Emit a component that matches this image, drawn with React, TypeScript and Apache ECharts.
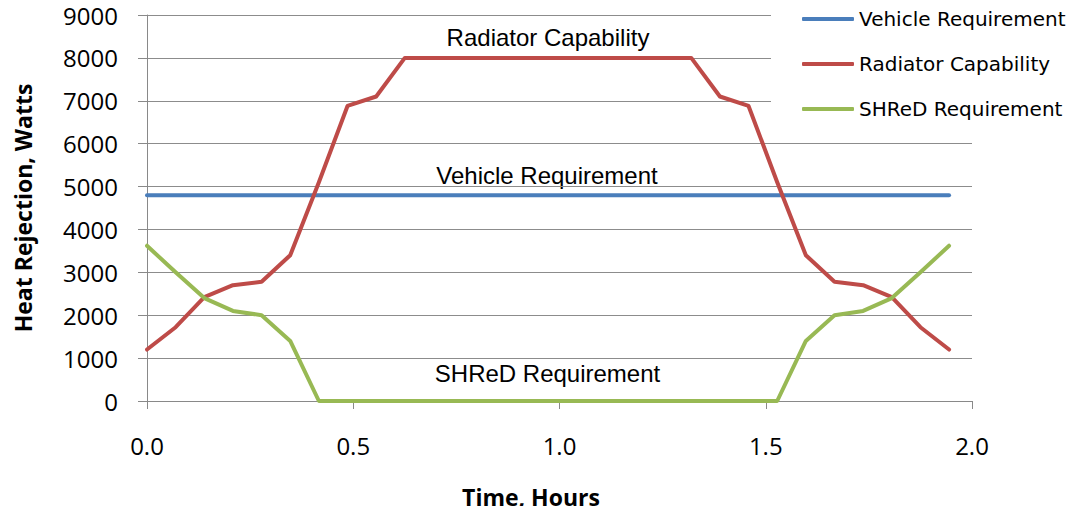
import React, { useEffect, useRef } from "react";
import * as echarts from "echarts";

const timeHours = [
  0, 0.0694, 0.1389, 0.2083, 0.2778, 0.3472, 0.4167, 0.4861, 0.5556, 0.625,
  0.6944, 0.7639, 0.8333, 0.9028, 0.9722, 1.0417, 1.1111, 1.1806, 1.25, 1.3194,
  1.3889, 1.4583, 1.5278, 1.5972, 1.6667, 1.7361, 1.8056, 1.875, 1.9444,
];
const vehicleRequirement = [
  4800, 4800, 4800, 4800, 4800, 4800, 4800, 4800, 4800, 4800,
  4800, 4800, 4800, 4800, 4800, 4800, 4800, 4800, 4800, 4800,
  4800, 4800, 4800, 4800, 4800, 4800, 4800, 4800, 4800,
];
const radiatorCapability = [
  1200, 1720, 2420, 2700, 2780, 3400, 5100, 6880, 7100, 8000,
  8000, 8000, 8000, 8000, 8000, 8000, 8000, 8000, 8000, 8000,
  7100, 6880, 5100, 3400, 2780, 2700, 2420, 1720, 1200,
];
const shredRequirement = [
  3620, 3000, 2400, 2100, 2000, 1400, 0, 0, 0, 0,
  0, 0, 0, 0, 0, 0, 0, 0, 0, 0,
  0, 0, 0, 1400, 2000, 2100, 2400, 3000, 3620,
];
const seriesNames = ["Vehicle Requirement", "Radiator Capability", "SHReD Requirement"];
const seriesColors = ["#4A7EBB", "#BE4B48", "#98B954"];

const tickFont = "Open Sans";

export default function App() {
  const ref = useRef<HTMLDivElement>(null);
  useEffect(() => {
    if (!ref.current) return;
    const chart = echarts.init(ref.current, undefined, { renderer: "svg" });
    const allData = [vehicleRequirement, radiatorCapability, shredRequirement];
    chart.setOption({
      animation: false,
      backgroundColor: "#fff",
      grid: { left: 147, right: 104, top: 15, bottom: 113 },
      xAxis: {
        type: "value",
        min: 0,
        max: 2,
        interval: 0.5,
        axisLine: { show: true, lineStyle: { color: "#898989", width: 1 } },
        axisTick: { show: true, length: 8, lineStyle: { color: "#898989" } },
        splitLine: { show: false },
        axisLabel: {
          margin: 32,
          color: "#000",
          fontSize: 24,
          fontFamily: tickFont,
          formatter: (v: number) => v.toFixed(1),
        },
      },
      yAxis: {
        type: "value",
        min: 0,
        max: 9000,
        interval: 1000,
        axisLine: { show: true, lineStyle: { color: "#898989", width: 1 } },
        axisTick: { show: true, length: 9, lineStyle: { color: "#898989" } },
        splitLine: { show: true, lineStyle: { color: "#8c8c8c", width: 1 } },
        axisLabel: {
          margin: 29,
          color: "#000",
          fontSize: 24,
          fontFamily: tickFont,
          formatter: (v: number) => String(v),
        },
      },
      legend: {
        orient: "vertical",
        left: 771,
        top: 0,
        padding: [9, 2, 10, 31],
        backgroundColor: "#fff",
        itemWidth: 52,
        itemHeight: 4,
        itemGap: 25,
        icon: "roundRect",
        data: seriesNames,
        textStyle: { fontSize: 20, lineHeight: 20, color: "#000", fontFamily: "DejaVu Sans" },
      },
      series: seriesNames.map((name, i) => ({
        name,
        type: "line",
        data: timeHours.map((t, j) => [t, allData[i][j]]),
        showSymbol: false,
        symbol: "none",
        color: seriesColors[i],
        lineStyle: { color: seriesColors[i], width: 4, cap: "round", join: "round" },
      })),
      graphic: [
        {
          type: "text",
          x: 548,
          y: 37,
          style: {
            text: "Radiator Capability",
            textAlign: "center",
            textVerticalAlign: "middle",
            font: '24px "Liberation Sans"',
            fill: "#000",
          },
        },
        {
          type: "text",
          x: 547,
          y: 175,
          style: {
            text: "Vehicle Requirement",
            textAlign: "center",
            textVerticalAlign: "middle",
            font: '24px "Liberation Sans"',
            fill: "#000",
          },
        },
        {
          type: "text",
          x: 547.5,
          y: 373,
          style: {
            text: "SHReD Requirement",
            textAlign: "center",
            textVerticalAlign: "middle",
            font: '24px "Liberation Sans"',
            fill: "#000",
          },
        },
        {
          type: "text",
          x: 531,
          y: 497,
          style: {
            text: "Time, Hours",
            textAlign: "center",
            textVerticalAlign: "middle",
            font: 'bold 23px "Open Sans"',
            fill: "#000",
          },
        },
        {
          type: "text",
          x: 22.5,
          y: 208,
          rotation: Math.PI / 2,
          style: {
            text: "Heat Rejection, Watts",
            textAlign: "center",
            textVerticalAlign: "middle",
            font: 'bold 23px "Open Sans"',
            fill: "#000",
          },
        },
      ],
    });
    return () => chart.dispose();
  }, []);
  return <div ref={ref} style={{ width: 1076, height: 514, margin: -8 }} />;
}
